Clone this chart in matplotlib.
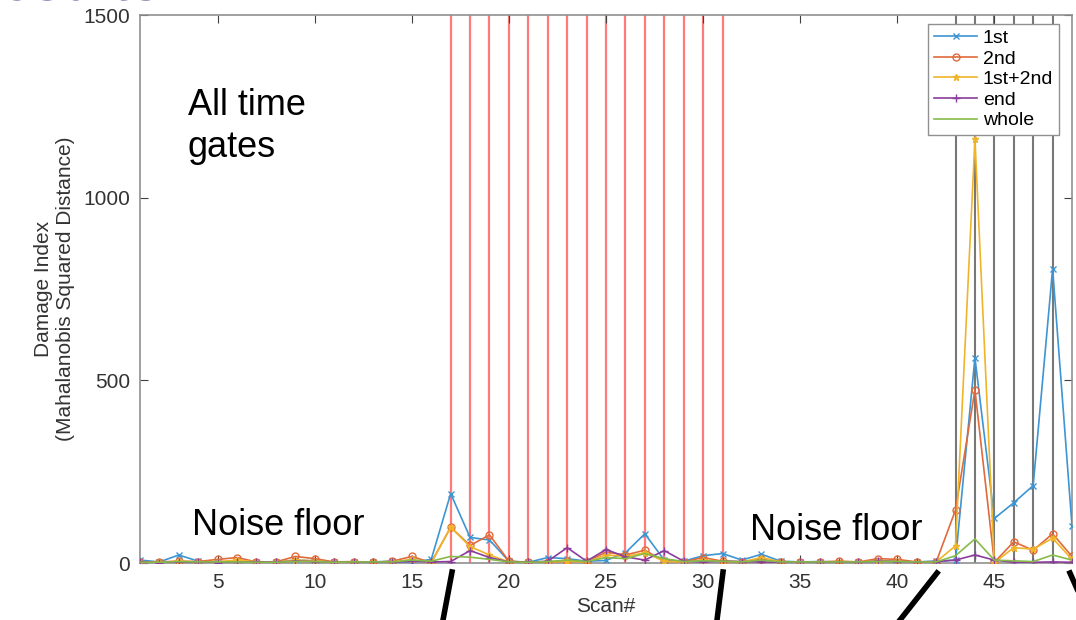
import matplotlib.pyplot as plt
from matplotlib.lines import Line2D

plt.rcParams['font.family'] = ['Liberation Sans', 'DejaVu Sans']

# scan numbers 1..49
scans = list(range(1, 50))

first = [8, 3, 22, 5, 2, 1, 2, 3, 8, 6, 2, 2, 3, 5, 2, 10, 190, 70, 63, 5,
         2, 15, 12, 5, 7, 28, 80, 8, 5, 20, 26, 8, 24, 5, 3, 4, 3, 2, 5, 5,
         3, 5, 8, 562, 122, 165, 212, 805, 101]
second = [2, 3, 5, 4, 10, 15, 3, 3, 18, 12, 3, 4, 2, 5, 18, 1, 98, 48, 77, 5,
          2, 2, 5, 3, 30, 22, 35, 5, 3, 15, 5, 3, 10, 3, 2, 3, 5, 3, 12, 10,
          3, 2, 145, 474, 2, 58, 35, 80, 18]
first_second = [3, 2, 5, 3, 4, 8, 3, 2, 8, 6, 2, 3, 2, 3, 10, 1, 98, 45, 22, 3,
                2, 3, 5, 3, 22, 18, 28, 5, 3, 8, 5, 3, 15, 3, 2, 3, 4, 3, 6, 5,
                2, 3, 47, 1160, 1, 42, 38, 68, 10]
end = [3, 1, 2, 2, 1, 2, 3, 2, 5, 4, 2, 2, 3, 2, 5, 3, 4, 34, 15, 3,
       2, 5, 42, 5, 37, 17, 8, 34, 5, 3, 5, 4, 3, 2, 3, 2, 3, 2, 5, 4,
       3, 4, 8, 22, 8, 2, 2, 3, 2]
whole = [2, 2, 4, 3, 3, 3, 2, 2, 4, 4, 2, 3, 3, 3, 8, 5, 18, 16, 10, 3,
         2, 4, 8, 4, 15, 12, 26, 12, 4, 6, 5, 3, 8, 3, 3, 3, 3, 3, 4, 4,
         3, 3, 20, 66, 8, 6, 4, 22, 8]

# damage scans marked on the slide
red_scans = list(range(17, 32))
gray_scans = list(range(43, 49))

fig = plt.figure(figsize=(10.76, 6.2), dpi=100)
ax = fig.add_axes([0.1301, 0.0919, 0.8662, 0.8839])

for s in red_scans:
    ax.axvline(s, color='#ff7b7b', lw=1.6, zorder=1)
for s in gray_scans:
    ax.axvline(s, color='#787878', lw=1.5, zorder=1)

ax.plot(scans, first, color='#3d95d3', marker='x', ms=5, lw=1.2, label='1st', zorder=3)
ax.plot(scans, second, color='#e06a3b', marker='o', ms=5, mfc='none', lw=1.2, label='2nd', zorder=3)
ax.plot(scans, first_second, color='#f0b429', marker='*', ms=5, lw=1.2, label='1st+2nd', zorder=3)
ax.plot(scans, end, color='#8a3d9a', marker='+', ms=6, lw=1.2, label='end', zorder=3)
ax.plot(scans, whole, color='#86bb4a', lw=1.2, label='whole', zorder=3)

ax.set_xlim(1, 49)
ax.set_ylim(0, 1500)
ax.set_xticks([5, 10, 15, 20, 25, 30, 35, 40, 45])
ax.set_yticks([0, 500, 1000, 1500])
ax.tick_params(direction='in', top=True, right=True, length=6, labelsize=15,
               colors='#404040', labelcolor='#333333', pad=7)
for sp in ax.spines.values():
    sp.set_color('#909090')
    sp.set_linewidth(1.2)

ax.set_xlabel('Scan#', fontsize=15, color='#333333', labelpad=4)
ax.set_ylabel('Damage Index\n(Mahalanobis Squared Distance)', fontsize=15,
              color='#333333', labelpad=6)

ax.legend(loc='upper right', bbox_to_anchor=(0.986, 0.984), fontsize=14,
          handlelength=2.2, handletextpad=0.3, borderpad=0.3,
          labelspacing=0.15, fancybox=False, framealpha=1,
          edgecolor='#909090', borderaxespad=0)

ax.text(3.45, 1195, 'All time\ngates', fontsize=26, va='center', ha='left', linespacing=1.25)
ax.text(3.7, 104, 'Noise floor', fontsize=26, va='center', ha='left')
ax.text(32.4, 90, 'Noise floor', fontsize=26, va='center', ha='left')

# slide decorations below the plot
W, H = 1076, 620
segs = [((452, 572), (443, 620)), ((723, 572), (717, 620)),
        ((937, 573), (900, 620)), ((1070, 573), (1082, 600))]
for (x0, y0), (x1, y1) in segs:
    fig.add_artist(Line2D([x0 / W, x1 / W], [1 - y0 / H, 1 - y1 / H],
                          color='black', lw=4, transform=fig.transFigure))

# cut-off slide title
fig.text(180 / W, 1 + 1 / H, 'Results:', fontsize=40, fontweight='bold',
         color='#2a2a80', ha='right', va='baseline')

fig.savefig('out.png', dpi=100)
